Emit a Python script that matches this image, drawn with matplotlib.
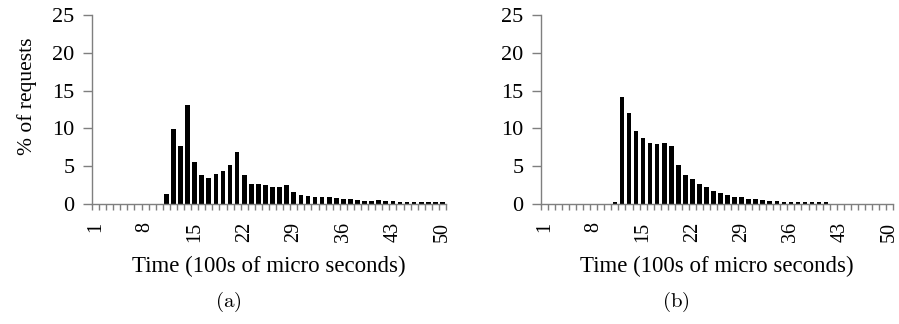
import matplotlib
matplotlib.use("Agg")
import matplotlib.pyplot as plt
import numpy as np

plt.rcParams["font.family"] = ["Liberation Serif", "DejaVu Serif"]
plt.rcParams["mathtext.fontset"] = "cm"

# Response-time histogram bins (1..50, units of 100 microseconds)
bins = list(range(1, 51))

# Percentage of requests per bin, configuration (a)
pct_a = [0, 0, 0, 0, 0, 0, 0, 0, 0, 0,
         1.3, 9.9, 7.7, 13.1, 5.6, 3.8, 3.4, 4.0, 4.4, 5.2,
         6.9, 3.8, 2.7, 2.6, 2.5, 2.3, 2.3, 2.5, 1.6, 1.2,
         1.05, 0.97, 0.97, 0.97, 0.84, 0.62, 0.62, 0.48, 0.4, 0.4,
         0.57, 0.44, 0.44, 0.3, 0.22, 0.3, 0.3, 0.3, 0.3, 0.22]

# Percentage of requests per bin, configuration (b)
pct_b = [0, 0, 0, 0, 0, 0, 0, 0, 0, 0,
         0.2, 14.2, 12.1, 9.6, 8.7, 8.1, 8.0, 8.1, 7.7, 5.2,
         3.8, 3.3, 2.6, 2.2, 1.76, 1.5, 1.2, 0.97, 0.9, 0.7,
         0.6, 0.57, 0.44, 0.44, 0.3, 0.3, 0.3, 0.22, 0.22, 0.22,
         0.22, 0, 0, 0, 0, 0, 0, 0, 0, 0]

tick_labels = [1, 8, 15, 22, 29, 36, 43, 50]
y_ticks = [0, 5, 10, 15, 20, 25]

W, H = 899, 324
fig = plt.figure(figsize=(W / 100, H / 100), dpi=100)

def make_axes(x0, x1, y_top, y_bot):
    return fig.add_axes([x0 / W, 1 - y_bot / H, (x1 - x0) / W, (y_bot - y_top) / H])

spine_col = "#7f7f7f"

def style(ax, values, ylabel=None):
    ax.bar(bins, values, width=0.66, color="black", linewidth=0)
    ax.set_xlim(0.5, 50.5)
    ax.set_ylim(0, 25)
    for s in ("top", "right"):
        ax.spines[s].set_visible(False)
    for s in ("left", "bottom"):
        ax.spines[s].set_color(spine_col)
        ax.spines[s].set_linewidth(1.0)
    ax.set_yticks(y_ticks)
    ax.set_yticklabels([str(v) for v in y_ticks], fontsize=16)
    ax.tick_params(axis="y", direction="out", length=6.5, width=1.0,
                   color=spine_col, pad=6)
    ax.set_xticks(tick_labels)
    ax.set_xticklabels([str(v) for v in tick_labels], rotation=90, fontsize=14.5)
    ax.set_xticks(np.arange(0.5, 51, 1.0), minor=True)
    ax.tick_params(axis="x", which="major", length=0, pad=13)
    ax.tick_params(axis="x", which="minor", direction="out", length=4.5,
                   width=1.0, color=spine_col)
    ax.set_xlabel("Time (100s of micro seconds)", fontsize=16.5, labelpad=10)
    if ylabel:
        ax.set_ylabel(ylabel, fontsize=15.5)
        ax.yaxis.set_label_coords(-0.155, 0.57)

ax_a = make_axes(92, 446, 15, 204)
style(ax_a, pct_a, "% of requests")
ax_b = make_axes(541, 893, 15, 204)
style(ax_b, pct_b)

fig.text(228 / W, 1 - 302 / H, r"$\mathrm{(a)}$", ha="center", va="center", fontsize=15)
fig.text(676 / W, 1 - 302 / H, r"$\mathrm{(b)}$", ha="center", va="center", fontsize=15)

fig.savefig("out.png", dpi=100)
